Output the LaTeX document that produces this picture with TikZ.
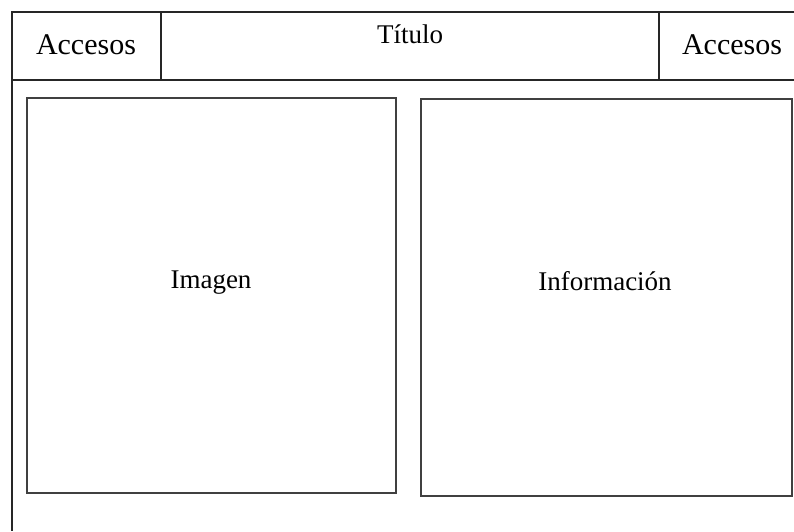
\documentclass[tikz,border=0pt]{standalone}
\usepackage{fontspec}
\setmainfont{Liberation Serif}
\tikzset{
  frameline/.style={draw=black!85, line width=1.6pt},
  boxline/.style={draw=black!75, line width=1.8pt},
  bigtext/.style={font=\fontsize{30}{36}\selectfont, anchor=base, inner sep=0pt},
  midtext/.style={font=\fontsize{27}{32}\selectfont, anchor=base, inner sep=0pt}
}
\begin{document}
\begin{tikzpicture}[x=1pt,y=-1pt]
\useasboundingbox (0,0) rectangle (794,531);
% header frame
\draw[frameline] (794,12) -- (12,12) -- (12,531);
\draw[frameline] (12,80) -- (794,80);
\draw[frameline] (161,12) -- (161,80);
\draw[frameline] (659,12) -- (659,80);
% content boxes
\draw[boxline] (27,98) rectangle (396,493);
\draw[boxline] (421,99) rectangle (792,496);
% texts
\node[bigtext] (acc1) at (86,54) {Accesos};
\node[midtext] (tit) at (410,43) {Título};
\node[bigtext] (acc2) at (732,54) {Accesos};
\node[midtext] (img) at (211,288) {Imagen};
\node[midtext] (inf) at (605,290) {Información};
\end{tikzpicture}
\end{document}
